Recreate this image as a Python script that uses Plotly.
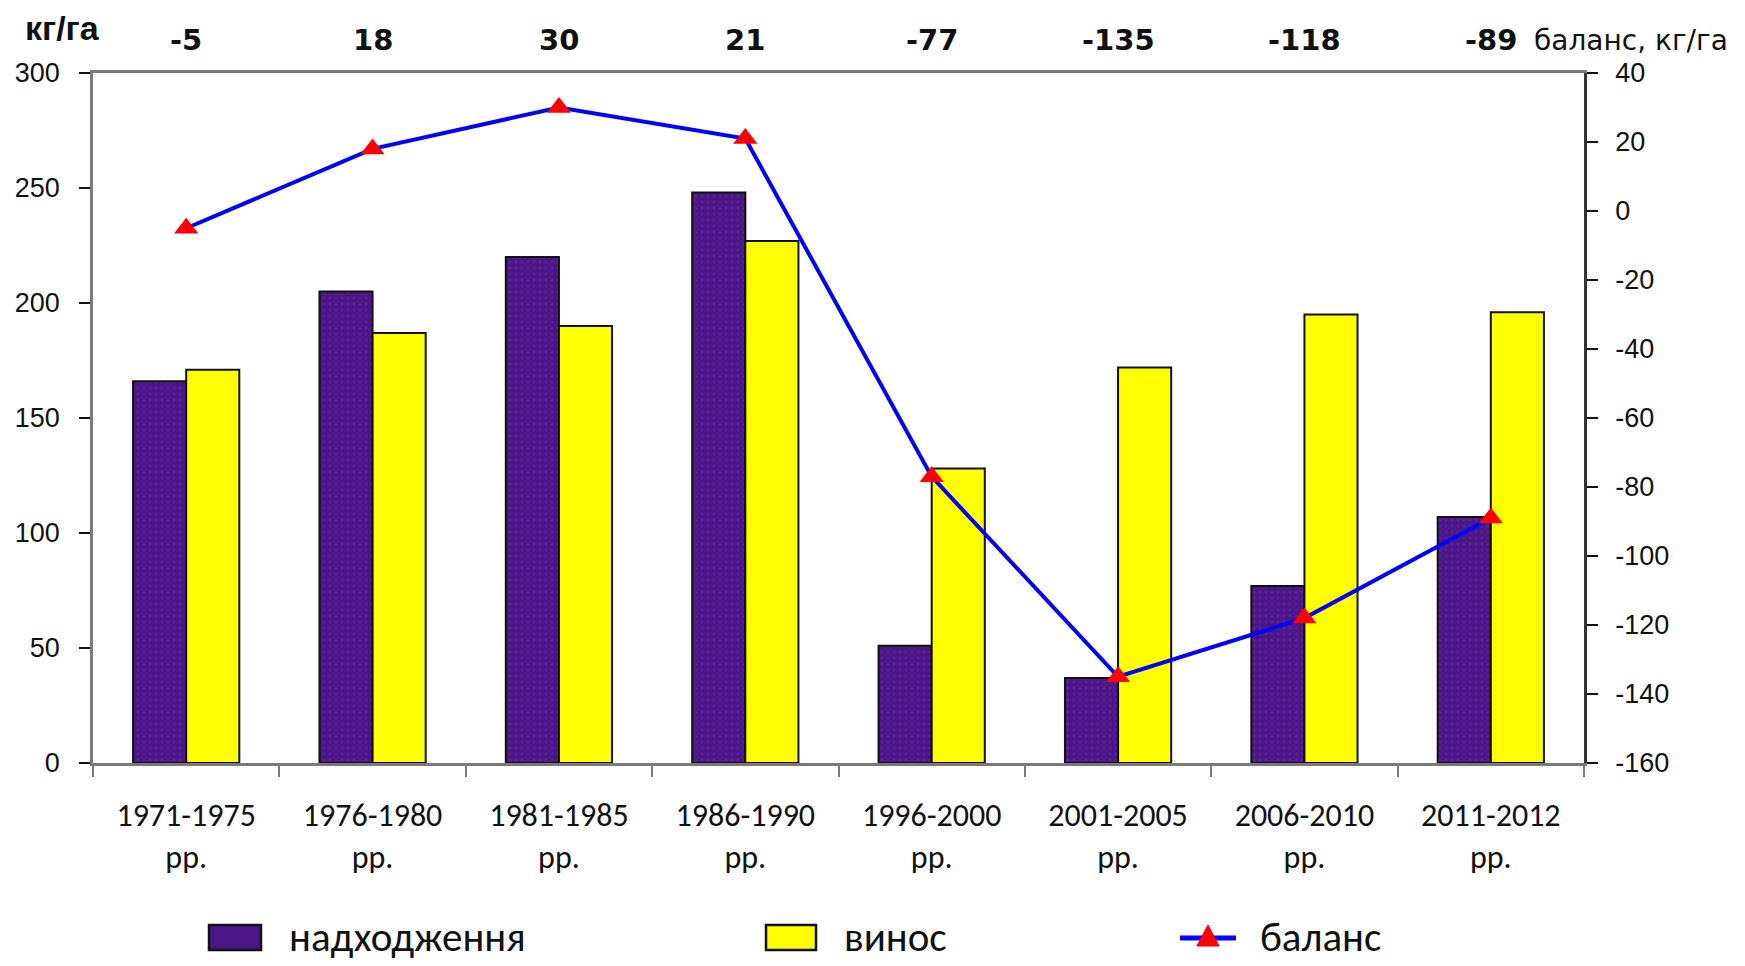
import plotly.graph_objects as go

# Nutrient balance data, kg/ha
periods = ["1971-1975", "1976-1980", "1981-1985", "1986-1990",
           "1996-2000", "2001-2005", "2006-2010", "2011-2012"]
period_labels = [p + "<br>рр." for p in periods]
inflow = [166, 205, 220, 248, 51, 37, 77, 107]      # надходження
removal = [171, 187, 190, 227, 128, 172, 195, 196]  # винос
balance = [-5, 18, 30, 21, -77, -135, -118, -89]    # баланс

left_ticks = [0, 50, 100, 150, 200, 250, 300]
right_ticks = [40, 20, 0, -20, -40, -60, -80, -100, -120, -140, -160]

W, H = 1745, 966
L, R, T, B = 93, 1584, 73, 763

PURPLE = "#4B1686"
YELLOW = "#FFFF00"
AXIS = "#7A7A7A"
SANS = "Liberation Sans, Arial, sans-serif"
DJV = "DejaVu Sans, Verdana, sans-serif"
CAL = "Carlito, Calibri, Noto Sans, sans-serif"


def px(xp):
    return (xp - L) / (R - L)


def py(yp):
    return (B - yp) / (B - T)


fig = go.Figure()
fig.add_trace(go.Bar(
    x=period_labels, y=inflow, name="надходження",
    marker=dict(color=PURPLE, line=dict(color="#111111", width=2),
                pattern=dict(shape=".", fgcolor="#6A2AA8", size=6, solidity=0.25)),
    showlegend=False,
))
fig.add_trace(go.Bar(
    x=period_labels, y=removal, name="винос",
    marker=dict(color=YELLOW, line=dict(color="#111111", width=2)),
    showlegend=False,
))
fig.add_trace(go.Scatter(
    x=period_labels, y=balance, name="баланс", yaxis="y2",
    mode="lines+markers", cliponaxis=False,
    line=dict(color="#0000FF", width=4),
    marker=dict(symbol="triangle-up", color="#FF0000", size=21),
    showlegend=False,
))

# balance values written above each period
for lab, b in zip(period_labels, balance):
    fig.add_annotation(x=lab, xref="x", y=py(40), yref="paper", text=str(b),
                       showarrow=False, xanchor="center", yanchor="middle",
                       font=dict(family=DJV, size=29, color="#111111", weight="bold"))

fig.add_annotation(x=px(1532), xref="paper", y=py(40), yref="paper",
                   text="баланс, кг/га", showarrow=False, xanchor="left", yanchor="middle",
                   font=dict(family=DJV, size=28, color="#111111"))
fig.add_annotation(x=px(23), xref="paper", y=py(28), yref="paper",
                   text="кг/га", showarrow=False, xanchor="left", yanchor="middle",
                   font=dict(family=SANS, size=34, color="#111111", weight="bold"))

# legend drawn below the axis
leg_y = 937
fig.add_shape(type="rect", xref="paper", yref="paper",
              x0=px(209), x1=px(261), y0=py(leg_y - 12), y1=py(leg_y + 13),
              fillcolor=PURPLE, line=dict(color="#111111", width=2.5))
fig.add_shape(type="rect", xref="paper", yref="paper",
              x0=px(766), x1=px(816), y0=py(leg_y - 12), y1=py(leg_y + 13),
              fillcolor=YELLOW, line=dict(color="#111111", width=2.5))
fig.add_shape(type="line", xref="paper", yref="paper",
              x0=px(1180), x1=px(1236), y0=py(leg_y + 1), y1=py(leg_y + 1),
              line=dict(color="#0000FF", width=5))
tri = [(1208, leg_y - 12), (1197, leg_y + 9), (1219, leg_y + 9)]
fig.add_shape(type="path", xref="paper", yref="paper",
              path="M " + " L ".join(f"{px(a):.5f},{py(b):.5f}" for a, b in tri) + " Z",
              fillcolor="#FF0000", line=dict(color="#FF0000", width=1))
for xx, txt in [(287, "надходження"), (842, "винос"), (1258, "баланс")]:
    fig.add_annotation(x=px(xx), xref="paper", y=py(leg_y), yref="paper", text=txt,
                       showarrow=False, xanchor="left", yanchor="middle",
                       font=dict(family=CAL, size=41, color="#111111"))

fig.update_layout(
    width=W, height=H,
    margin=dict(l=L, r=W - R, t=T, b=H - B, autoexpand=False),
    paper_bgcolor="white", plot_bgcolor="white",
    barmode="group", bargap=0.43, bargroupgap=0,
    xaxis=dict(
        type="category", tickson="boundaries", ticks="outside", ticklen=11,
        tickcolor=AXIS, tickwidth=1.5, showline=True, linecolor=AXIS, linewidth=2.5,
        mirror=True, showgrid=False, ticklabelstandoff=22,
        tickfont=dict(family=CAL, size=32, color="#111111"),
    ),
    yaxis=dict(
        range=[0, 300], tickvals=left_ticks, ticks="outside", ticklen=11,
        tickcolor="#111111", tickwidth=1.5, showline=True, linecolor=AXIS, linewidth=2.5,
        showgrid=False, zeroline=False, ticklabelstandoff=14,
        tickfont=dict(family=SANS, size=27, color="#111111"),
    ),
    yaxis2=dict(
        range=[-160, 40], tickvals=right_ticks, ticktext=[str(v) for v in right_ticks],
        overlaying="y", side="right",
        ticks="outside", ticklen=11, tickcolor="#111111", tickwidth=1.5, showline=True,
        linecolor="#333333", linewidth=2.5, showgrid=False, zeroline=False,
        ticklabelstandoff=12,
        tickfont=dict(family=SANS, size=27, color="#111111"),
    ),
    # inner halves of the crossing tick marks
    yaxis4=dict(range=[0, 300], tickvals=left_ticks, overlaying="y", side="left",
                ticks="inside", ticklen=11, tickcolor="#111111", tickwidth=1.5,
                showticklabels=False, showline=False, showgrid=False, zeroline=False),
    yaxis5=dict(range=[-160, 40], tickvals=right_ticks, overlaying="y", side="right",
                ticks="inside", ticklen=11, tickcolor="#111111", tickwidth=1.5,
                showticklabels=False, showline=False, showgrid=False, zeroline=False),
)

fig.write_html("out.html")
